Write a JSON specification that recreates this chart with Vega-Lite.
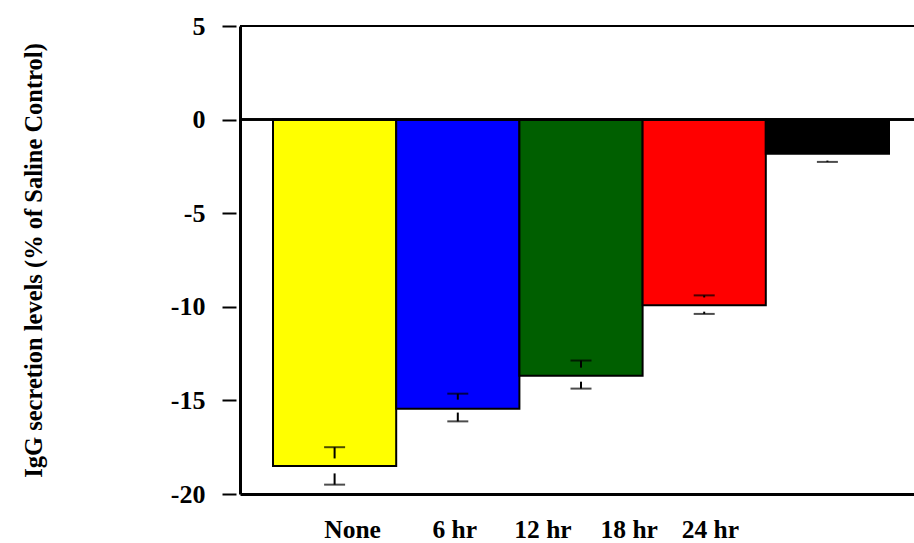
{
  "$schema": "https://vega.github.io/schema/vega-lite/v6.json",
  "autosize": {"type": "none"},
  "padding": {"left": 240, "top": 26, "right": 0, "bottom": 49},
  "width": 674,
  "height": 468,
  "background": "white",
  "config": {"view": {"stroke": null}},
  "data": {"values": [
    {"group": "None", "value": -18.5, "hi": -17.5, "hiStub": -18.1, "lo": -19.5, "loStub": -18.9},
    {"group": "6 hr", "value": -15.44, "hi": -14.64, "hiStub": -14.96, "lo": -16.12, "loStub": -15.65},
    {"group": "12 hr", "value": -13.68, "hi": -12.87, "hiStub": -13.25, "lo": -14.37, "loStub": -14.0},
    {"group": "18 hr", "value": -9.92, "hi": -9.39, "hiStub": -9.5, "lo": -10.38, "loStub": -10.26},
    {"group": "24 hr", "value": -1.83, "hi": -1.4, "hiStub": -1.47, "lo": -2.26, "loStub": -2.19}
  ]},
  "layer": [
    {
      "mark": {"type": "bar", "stroke": "black", "strokeWidth": 2},
      "encoding": {
        "x": {
          "field": "group", "type": "nominal", "sort": null,
          "scale": {"paddingInner": 0, "paddingOuter": 0.2354, "align": 0.569},
          "axis": {
            "title": null, "ticks": false, "tickSize": 0, "domain": true, "domainColor": "black", "domainWidth": 3,
            "labelFont": "Liberation Serif", "labelFontWeight": "bold", "labelFontSize": 25.5, "labelColor": "black",
            "labelAngle": 0, "labelBaseline": "alphabetic", "labelPadding": 43,
            "labelOffset": {"condition": [
              {"test": "datum.value === 'None'", "value": 18},
              {"test": "datum.value === '6 hr'", "value": -3},
              {"test": "datum.value === '12 hr'", "value": -38},
              {"test": "datum.value === '18 hr'", "value": -75}
            ], "value": -117}
          }
        },
        "y": {
          "field": "value", "type": "quantitative",
          "scale": {"domain": [-20, 5], "nice": false, "zero": false},
          "axis": {
            "title": "IgG secretion levels (% of Saline Control)",
            "titleFont": "Liberation Serif", "titleFontWeight": "bold", "titleFontSize": 24.5, "titleColor": "black",
            "titlePadding": 124,
            "values": [-20, -15, -10, -5, 0, 5], "grid": false, "domain": false, "offset": 4,
            "tickSize": 14, "tickWidth": 2, "tickColor": "black",
            "labelExpr": "replace(datum.label, '\u2212', '-')",
            "labelFont": "Liberation Serif", "labelFontWeight": "bold", "labelFontSize": 26, "labelColor": "black",
            "labelPadding": 17
          }
        },
        "color": {
          "field": "group", "type": "nominal", "legend": null,
          "scale": {"domain": ["None", "6 hr", "12 hr", "18 hr", "24 hr"], "range": ["#FFFF00", "#0000FF", "#005F00", "#FF0000", "#000000"]}
        }
      }
    },
    {
      "mark": {"type": "rule", "color": "black", "strokeWidth": 2},
      "encoding": {
        "y": {"datum": 0, "axis": {"orient": "left", "domain": true, "domainColor": "black", "domainWidth": 3, "ticks": false, "labels": false, "title": null, "grid": false, "offset": 0}}
      }
    },
    {
      "mark": {"type": "rule", "color": "black", "strokeWidth": 2},
      "encoding": {"y": {"datum": 5}}
    },
    {
      "mark": {"type": "tick", "color": "black", "size": 21, "thickness": 2},
      "encoding": {"x": {"field": "group", "type": "nominal", "sort": null}, "y": {"field": "hi", "type": "quantitative"}}
    },
    {
      "mark": {"type": "tick", "color": "black", "size": 21, "thickness": 2},
      "encoding": {"x": {"field": "group", "type": "nominal", "sort": null}, "y": {"field": "lo", "type": "quantitative"}}
    },
    {
      "mark": {"type": "rule", "color": "black", "strokeWidth": 2},
      "encoding": {"x": {"field": "group", "type": "nominal", "sort": null}, "y": {"field": "hi", "type": "quantitative"}, "y2": {"field": "hiStub"}}
    },
    {
      "mark": {"type": "rule", "color": "black", "strokeWidth": 2},
      "encoding": {"x": {"field": "group", "type": "nominal", "sort": null}, "y": {"field": "lo", "type": "quantitative"}, "y2": {"field": "loStub"}}
    }
  ],
  "resolve": {"axis": {"y": "independent"}}
}
